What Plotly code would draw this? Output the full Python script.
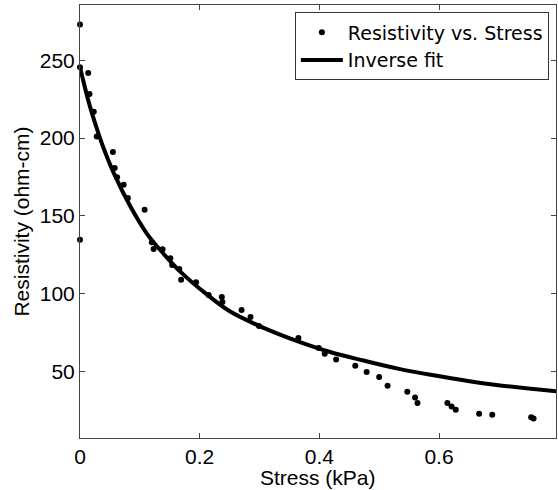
import plotly.graph_objects as go

# Measured data (Stress kPa, Resistivity ohm-cm)
stress = [0.0, 0.0, 0.0, 0.0137, 0.0159, 0.023, 0.028, 0.055, 0.058, 0.062, 0.073, 0.080,
          0.108, 0.120, 0.123, 0.138, 0.151, 0.154, 0.166, 0.169, 0.194, 0.215, 0.237,
          0.238, 0.270, 0.285, 0.299, 0.365, 0.399, 0.409, 0.428, 0.460, 0.479, 0.500,
          0.514, 0.547, 0.560, 0.564, 0.614, 0.621, 0.628, 0.667, 0.689, 0.754, 0.758]
resistivity = [273.0, 245.5, 134.7, 241.9, 228.4, 217.0, 201.0, 191.1, 180.8, 174.8, 170.1, 161.5,
               154.0, 133.0, 128.7, 128.5, 122.8, 118.4, 115.9, 109.0, 107.4, 99.2, 97.9,
               94.7, 89.5, 85.0, 79.2, 71.5, 65.1, 61.4, 57.6, 53.7, 49.6, 46.4,
               40.8, 37.0, 33.3, 29.7, 29.7, 27.5, 25.4, 22.8, 22.2, 20.5, 19.8]

# Inverse fit curve
fit_x = [0.0, 0.0147, 0.0287, 0.040, 0.0565, 0.0843, 0.112, 0.140, 0.168, 0.212, 0.251,
         0.307, 0.363, 0.418, 0.474, 0.535, 0.591, 0.646, 0.702, 0.7955]
fit_y = [245.7, 223.0, 205.5, 193.0, 177.5, 156.0, 138.5, 125.5, 114.0, 99.5, 88.5,
         78.0, 69.5, 62.5, 57.0, 51.5, 47.5, 44.0, 41.0, 37.2]

x_ticks = [0, 0.2, 0.4, 0.6]
x_ticktext = ["0", "0.2", "0.4", "0.6"]
y_ticks = [50, 100, 150, 200, 250]

fig = go.Figure()
fig.add_trace(go.Scatter(
    x=stress, y=resistivity, mode="markers", name="Resistivity vs. Stress",
    marker=dict(color="black", size=6), cliponaxis=False))
fig.add_trace(go.Scatter(
    x=fit_x, y=fit_y, mode="lines", name="Inverse fit",
    line=dict(color="black", width=4, shape="spline")))

axis_common = dict(
    showgrid=False, zeroline=False, showline=True, linecolor="#444444", linewidth=1,
    mirror="ticks", ticks="inside", ticklen=5, tickcolor="#444444",
    tickfont=dict(family="Liberation Sans, Arial", size=21, color="black"),
)
title_font = dict(family="Liberation Sans, Arial", size=21, color="black")

fig.update_layout(
    width=558, height=490,
    margin=dict(l=79.5, r=2, t=5.3, b=51.7),
    plot_bgcolor="white", paper_bgcolor="white",
    xaxis=dict(range=[0, 0.7955], tickvals=x_ticks, ticktext=x_ticktext, **axis_common),
    yaxis=dict(range=[7.2, 285.6], tickvals=y_ticks,
               title=dict(text="Resistivity (ohm-cm)", standoff=4, font=title_font),
               **axis_common),
    legend=dict(x=0.985, y=0.983, xanchor="right", yanchor="top",
                bgcolor="white", bordercolor="#333333", borderwidth=1, itemwidth=42,
                font=dict(family="DejaVu Sans", size=19, color="black")),
    showlegend=True,
    annotations=[dict(text="Stress (kPa)", x=0.5, y=-0.0917, xref="paper", yref="paper",
                      xanchor="center", yanchor="middle", showarrow=False, font=title_font)],
)

fig.write_html("out.html")
